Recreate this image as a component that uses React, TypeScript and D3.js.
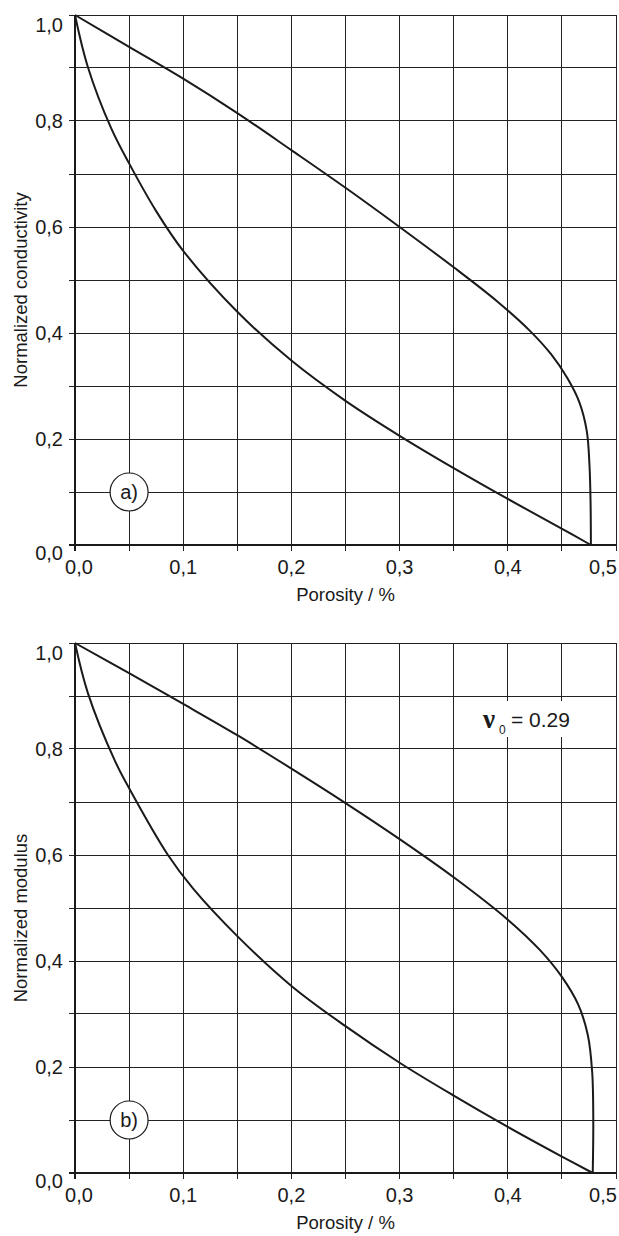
import React from "react";
import * as d3 from "d3";

// axis ticks / labels
const porosityTicks = [0, 0.1, 0.2, 0.3, 0.4, 0.5];
const porosityLabels = ["0,0", "0,1", "0,2", "0,3", "0,4", "0,5"];
const porosityGrid = [0, 0.05, 0.1, 0.15, 0.2, 0.25, 0.3, 0.35, 0.4, 0.45, 0.5];
const normTicks = [0, 0.2, 0.4, 0.6, 0.8, 1.0];
const normLabels = ["0,0", "0,2", "0,4", "0,6", "0,8", "1,0"];
const normGrid = [0, 0.1, 0.2, 0.3, 0.4, 0.5, 0.6, 0.7, 0.8, 0.9, 1.0];

// panel a) conductivity
const condUpper: [number, number][] = [
  [0, 1], [0.05, 0.94], [0.1, 0.88], [0.15, 0.815], [0.2, 0.745], [0.25, 0.674],
  [0.3, 0.6], [0.35, 0.524], [0.39, 0.46], [0.42, 0.405], [0.44, 0.36], [0.455, 0.315],
  [0.466, 0.27], [0.473, 0.215], [0.4755, 0.15], [0.4765, 0.08], [0.4768, 0],
];
const condLower: [number, number][] = [
  [0, 1], [0.0118, 0.9025], [0.0335, 0.786], [0.05, 0.72], [0.075, 0.63], [0.1, 0.555],
  [0.15, 0.44], [0.2, 0.348], [0.25, 0.272], [0.3, 0.206], [0.35, 0.145],
  [0.4, 0.0868], [0.451, 0.0296], [0.4768, 0],
];

// panel b) modulus
const modUpper: [number, number][] = [
  [0, 1], [0.05, 0.943], [0.1, 0.885], [0.15, 0.826], [0.2, 0.763], [0.25, 0.698],
  [0.3, 0.63], [0.35, 0.558], [0.4, 0.478], [0.43, 0.42], [0.45, 0.37], [0.465, 0.318],
  [0.474, 0.26], [0.478, 0.19], [0.479, 0.1], [0.4785, 0],
];
const modLower: [number, number][] = [
  [0, 1], [0.012, 0.905], [0.0366, 0.779], [0.0504, 0.7245], [0.0859, 0.6], [0.109, 0.537],
  [0.15, 0.447], [0.2, 0.353], [0.25, 0.277], [0.3, 0.208], [0.35, 0.146], [0.4, 0.087],
  [0.45, 0.031], [0.4785, 0],
];

const FONT = "'Liberation Sans', Arial, sans-serif";
const INK = "#1a1a1a";

function Panel({ top, upper, lower, title, tag, children }: any) {
  const h = 530;
  const x = d3.scaleLinear().domain([0, 0.5]).range([75, 616]);
  const y = d3.scaleLinear().domain([0, 1]).range([top + h, top]);
  const line = d3
    .line<[number, number]>()
    .x((d) => x(d[0]))
    .y((d) => y(d[1]))
    .curve(d3.curveCatmullRom.alpha(0.5));
  const crisp = (v: number) => Math.floor(v) + 0.5;

  return (
    <g>
      {/* grid */}
      {porosityGrid.map((v) => (
        <line key={"gx" + v} x1={crisp(x(v))} x2={crisp(x(v))} y1={y(1)} y2={y(0) + 6}
          stroke="#222" strokeWidth={1} />
      ))}
      {normGrid.map((v) => (
        <line key={"gy" + v} x1={x(0) - 6} x2={x(0.5)} y1={crisp(y(v))} y2={crisp(y(v))}
          stroke="#222" strokeWidth={1} />
      ))}
      {/* axes */}
      <line x1={x(0)} x2={x(0)} y1={y(1)} y2={y(0) + 6} stroke={INK} strokeWidth={2} />
      <line x1={x(0) - 6} x2={x(0.5)} y1={y(0)} y2={y(0)} stroke={INK} strokeWidth={2} />

      {/* curves */}
      <path d={line(upper) || ""} fill="none" stroke={INK} strokeWidth={2} />
      <path d={line(lower) || ""} fill="none" stroke={INK} strokeWidth={2} />

      {/* x tick labels */}
      {porosityTicks.map((v, i) => {
        let dx = 0;
        if (i === 0) dx = 4;
        if (i === porosityTicks.length - 1) dx = -13;
        return (
          <text key={"xl" + v} x={x(v) + dx} y={y(0) + 29} textAnchor="middle"
            fontFamily={FONT} fontSize={20} fill={INK}>
            {porosityLabels[i]}
          </text>
        );
      })}
      {/* y tick labels */}
      {normTicks.map((v, i) => {
        let dy = 7;
        if (i === 0) dy = 15;
        if (i === normTicks.length - 1) dy = 17;
        return (
          <text key={"yl" + v} x={63} y={y(v) + dy} textAnchor="end"
            fontFamily={FONT} fontSize={20} fill={INK}>
            {normLabels[i]}
          </text>
        );
      })}

      {/* titles */}
      <text transform={`translate(27, ${top + h / 2 + 10}) rotate(-90)`} textAnchor="middle"
        fontFamily={FONT} fontSize={18.5} fill={INK}>
        {title}
      </text>
      <text x={(x(0) + x(0.5)) / 2} y={y(0) + 56} textAnchor="middle"
        fontFamily={FONT} fontSize={18.5} fill={INK}>
        Porosity / %
      </text>

      {/* panel tag */}
      <circle cx={x(0.05)} cy={y(0.1)} r={19} fill="#fff" stroke={INK} strokeWidth={1.2} />
      <text x={x(0.05)} y={y(0.1) + 7} textAnchor="middle" fontFamily={FONT} fontSize={20} fill={INK}>
        {tag}
      </text>
      {children}
    </g>
  );
}

export default function App() {
  return (
    <svg width={619} height={1236} style={{ position: "absolute", left: 0, top: 0, background: "#fff" }}>
      <rect width={619} height={1236} fill="#fff" />
      <Panel top={15} upper={condUpper} lower={condLower} title="Normalized conductivity" tag="a)" />
      <Panel top={643} upper={modUpper} lower={modLower} title="Normalized modulus" tag="b)">
        <rect x={478} y={701} width={98} height={36} fill="#fff" />
        <text x={483} y={728} fontFamily="'Liberation Serif', 'DejaVu Serif', serif" fontWeight="bold"
          fontSize={27} fill={INK}>
          ν
        </text>
        <text x={499} y={734} fontFamily={FONT} fontSize={12} fill={INK}>0</text>
        <text x={511} y={727} fontFamily={FONT} fontSize={21} fill={INK}>= 0.29</text>
      </Panel>
    </svg>
  );
}
